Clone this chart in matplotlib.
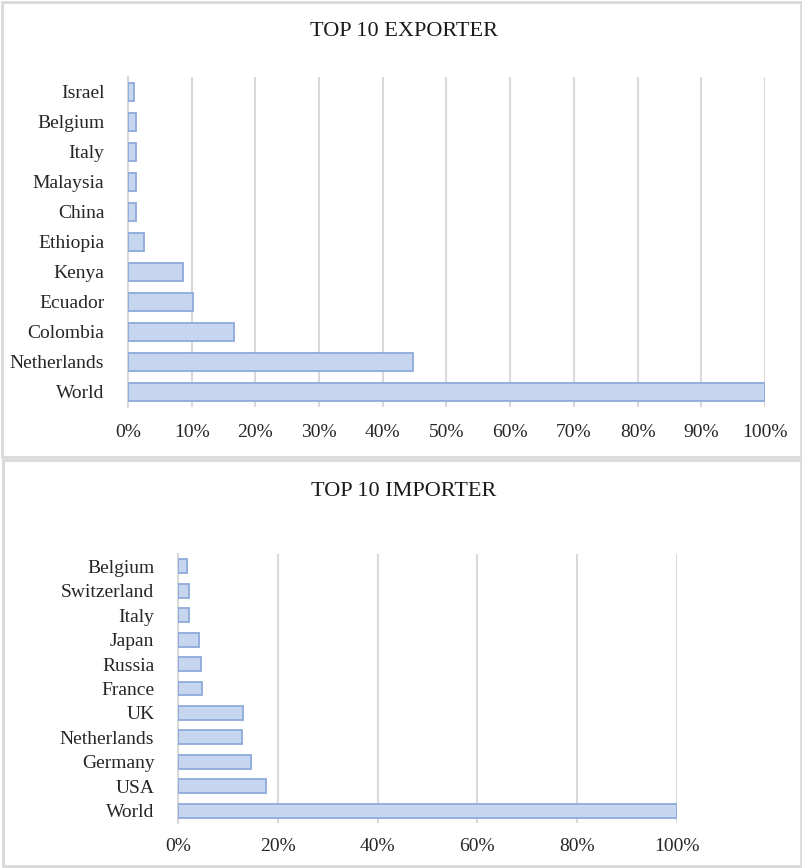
import matplotlib
matplotlib.use('Agg')
import matplotlib.pyplot as plt
from matplotlib.patches import Rectangle
from matplotlib.ticker import PercentFormatter

plt.rcParams['font.family'] = ['Liberation Serif', 'DejaVu Serif']
plt.rcParams['font.size'] = 14

# data (share of world, %), bottom to top
exp_countries = ['World', 'Netherlands', 'Colombia', 'Ecuador', 'Kenya', 'Ethiopia',
                 'China', 'Malaysia', 'Italy', 'Belgium', 'Israel']
exp_values = [100, 44.7, 16.6, 10.2, 8.6, 2.5, 1.3, 1.3, 1.2, 1.2, 1.0]

imp_countries = ['World', 'USA', 'Germany', 'Netherlands', 'UK', 'France',
                 'Russia', 'Japan', 'Italy', 'Switzerland', 'Belgium']
imp_values = [100, 17.6, 14.6, 12.9, 13.0, 4.9, 4.6, 4.3, 2.2, 2.2, 1.9]

BAR_FACE = '#c6d6ee'
BAR_EDGE = '#8eaadb'
GRID = '#d9d9d9'

W, H = 803, 868
fig = plt.figure(figsize=(W / 100, H / 100), dpi=100)
fig.patch.set_facecolor('white')


def px_rect(x0, y0, x1, y1):
    # convert pixel box (top-left origin) to figure fraction
    return [x0 / W, 1 - y1 / H, (x1 - x0) / W, (y1 - y0) / H]


# panel borders
for (x0, y0, x1, y1) in [(2, 2, 801, 457), (3, 460, 801, 866)]:
    fig.patches.append(Rectangle((x0 / W, 1 - y1 / H), (x1 - x0) / W, (y1 - y0) / H,
                                 transform=fig.transFigure, fill=False,
                                 edgecolor=GRID, linewidth=2))


def draw(ax, countries, values, step, xpad, ypad):
    ax.barh(range(len(countries)), values, height=0.57, color=BAR_FACE,
            edgecolor=BAR_EDGE, linewidth=1.3, zorder=3)
    ax.set_yticks(range(len(countries)))
    ax.set_yticklabels(countries)
    ax.set_ylim(-0.5, len(countries) - 0.5)
    ax.set_xlim(0, 100)
    ax.set_xticks(range(0, 101, step))
    ax.xaxis.set_major_formatter(PercentFormatter(decimals=0))
    ax.grid(axis='x', color=GRID, linewidth=1.5, zorder=0)
    for s in ['top', 'right', 'bottom']:
        ax.spines[s].set_visible(False)
    ax.spines['left'].set_color(GRID)
    ax.spines['left'].set_linewidth(1.5)
    ax.tick_params(axis='x', length=0, pad=xpad, colors='#262626')
    ax.tick_params(axis='y', length=0, pad=ypad, colors='#262626')


ax1 = fig.add_axes(px_rect(128, 77, 765, 407))
draw(ax1, exp_countries, exp_values, 10, 12, 17)
fig.text(404 / W, 1 - 31 / H, 'TOP 10 EXPORTER', ha='center', va='center',
         fontsize=16, color='#1a1a1a')

ax2 = fig.add_axes(px_rect(178, 554, 677, 823))
draw(ax2, imp_countries, imp_values, 20, 11, 17)
fig.text(404 / W, 1 - 492 / H, 'TOP 10 IMPORTER', ha='center', va='center',
         fontsize=16, color='#1a1a1a')

fig.savefig('out.png', dpi=100, facecolor='white')
